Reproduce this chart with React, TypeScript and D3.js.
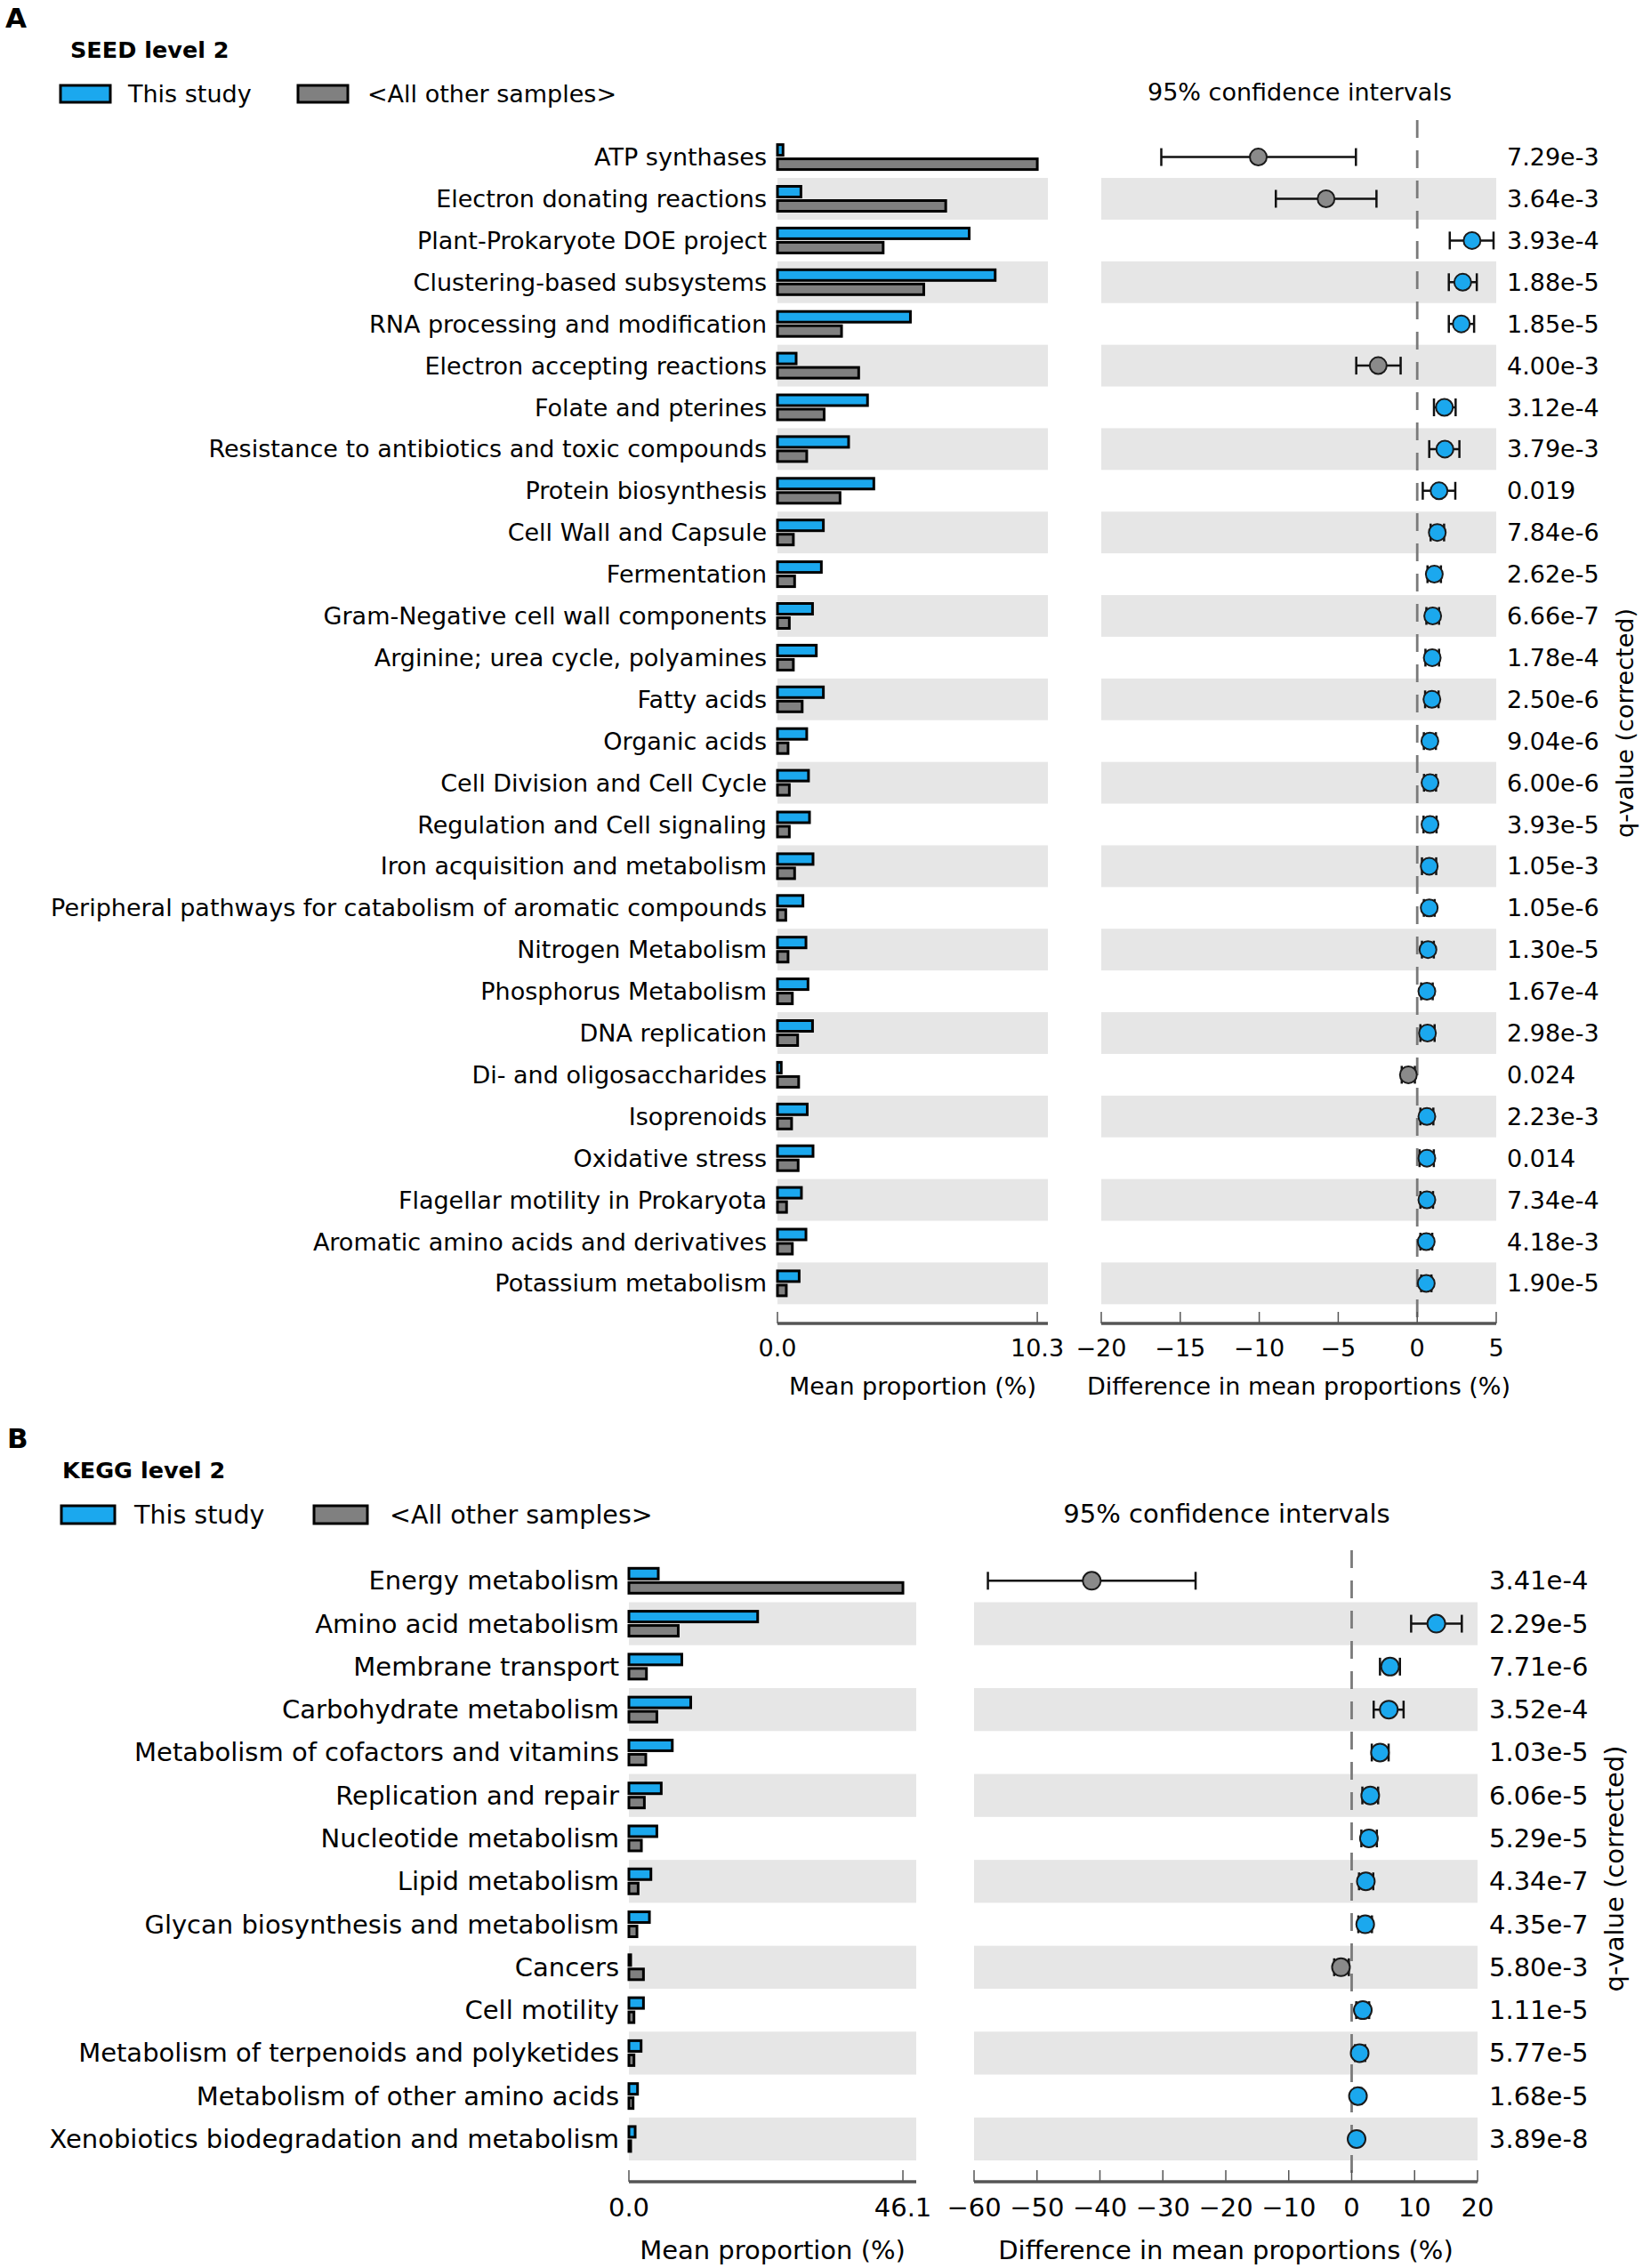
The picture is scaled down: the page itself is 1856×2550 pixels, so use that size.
import { FC } from 'react';
import * as d3 from 'd3';

// ---- SEED level 2 (panel A) ----
const seedCategories = [
  'ATP synthases',
  'Electron donating reactions',
  'Plant-Prokaryote DOE project',
  'Clustering-based subsystems',
  'RNA processing and modification',
  'Electron accepting reactions',
  'Folate and pterines',
  'Resistance to antibiotics and toxic compounds',
  'Protein biosynthesis',
  'Cell Wall and Capsule',
  'Fermentation',
  'Gram-Negative cell wall components',
  'Arginine; urea cycle, polyamines',
  'Fatty acids',
  'Organic acids',
  'Cell Division and Cell Cycle',
  'Regulation and Cell signaling',
  'Iron acquisition and metabolism',
  'Peripheral pathways for catabolism of aromatic compounds',
  'Nitrogen Metabolism',
  'Phosphorus Metabolism',
  'DNA replication',
  'Di- and oligosaccharides',
  'Isoprenoids',
  'Oxidative stress',
  'Flagellar motility in Prokaryota',
  'Aromatic amino acids and derivatives',
  'Potassium metabolism',
];
const seedThisStudy = [0.22, 0.93, 7.6, 8.63, 5.27, 0.74, 3.57, 2.82, 3.82, 1.82, 1.74, 1.39, 1.54, 1.82, 1.16, 1.23, 1.27, 1.41, 1.01, 1.13, 1.21, 1.39, 0.15, 1.18, 1.41, 0.95, 1.13, 0.86];
const seedOthers = [10.3, 6.67, 4.19, 5.8, 2.54, 3.22, 1.85, 1.16, 2.48, 0.63, 0.68, 0.47, 0.63, 0.98, 0.42, 0.47, 0.47, 0.68, 0.33, 0.42, 0.59, 0.8, 0.84, 0.56, 0.82, 0.36, 0.59, 0.35];
const seedDiff = [-10.06, -5.77, 3.47, 2.88, 2.79, -2.47, 1.72, 1.75, 1.38, 1.27, 1.08, 0.98, 0.95, 0.93, 0.8, 0.81, 0.81, 0.76, 0.76, 0.68, 0.61, 0.65, -0.56, 0.61, 0.61, 0.61, 0.57, 0.57];
const seedCiLow = [-16.2, -8.95, 2.06, 2.0, 2.0, -3.86, 1.06, 0.76, 0.35, 0.85, 0.65, 0.58, 0.52, 0.5, 0.42, 0.43, 0.4, 0.3, 0.42, 0.3, 0.25, 0.2, -0.98, 0.2, 0.15, 0.2, 0.2, 0.25];
const seedCiHigh = [-3.88, -2.58, 4.83, 3.77, 3.6, -1.05, 2.43, 2.67, 2.41, 1.7, 1.5, 1.38, 1.38, 1.35, 1.18, 1.19, 1.22, 1.2, 1.1, 1.05, 0.98, 1.1, -0.15, 1.02, 1.05, 1.0, 0.95, 0.9];
const seedQValues = ['7.29e-3', '3.64e-3', '3.93e-4', '1.88e-5', '1.85e-5', '4.00e-3', '3.12e-4', '3.79e-3', '0.019', '7.84e-6', '2.62e-5', '6.66e-7', '1.78e-4', '2.50e-6', '9.04e-6', '6.00e-6', '3.93e-5', '1.05e-3', '1.05e-6', '1.30e-5', '1.67e-4', '2.98e-3', '0.024', '2.23e-3', '0.014', '7.34e-4', '4.18e-3', '1.90e-5'];
const seedBarTicks = [0, 10.3];
const seedDiffTicks = [-20, -15, -10, -5, 0, 5];

// ---- KEGG level 2 (panel B) ----
const keggCategories = [
  'Energy metabolism',
  'Amino acid metabolism',
  'Membrane transport',
  'Carbohydrate metabolism',
  'Metabolism of cofactors and vitamins',
  'Replication and repair',
  'Nucleotide metabolism',
  'Lipid metabolism',
  'Glycan biosynthesis and metabolism',
  'Cancers',
  'Cell motility',
  'Metabolism of terpenoids and polyketides',
  'Metabolism of other amino acids',
  'Xenobiotics biodegradation and metabolism',
];
const keggThisStudy = [4.94, 21.66, 8.9, 10.4, 7.3, 5.44, 4.7, 3.7, 3.45, 0.3, 2.45, 2.05, 1.45, 1.05];
const keggOthers = [46.1, 8.3, 2.95, 4.7, 2.84, 2.6, 2.1, 1.55, 1.35, 2.45, 0.85, 0.85, 0.7, 0.3];
const keggDiff = [-41.3, 13.45, 6.1, 5.9, 4.5, 2.95, 2.74, 2.25, 2.15, -1.7, 1.77, 1.27, 1.0, 0.78];
const keggCiLow = [-57.8, 9.45, 4.5, 3.5, 3.2, 1.7, 1.54, 1.17, 1.06, -2.78, 0.73, 0.52, 0.45, 0.3];
const keggCiHigh = [-24.8, 17.5, 7.67, 8.25, 5.87, 4.2, 4.0, 3.43, 3.22, -0.45, 2.78, 2.15, 1.55, 1.25];
const keggQValues = ['3.41e-4', '2.29e-5', '7.71e-6', '3.52e-4', '1.03e-5', '6.06e-5', '5.29e-5', '4.34e-7', '4.35e-7', '5.80e-3', '1.11e-5', '5.77e-5', '1.68e-5', '3.89e-8'];
const keggBarTicks = [0, 46.1];
const keggDiffTicks = [-60, -50, -40, -30, -20, -10, 0, 10, 20];

const BLUE = '#1ba8ee';
const GRAY = '#808080';
const DOT_GRAY = '#8a8a8a';
const BAND = '#e6e6e6';
const FONT = '"DejaVu Sans", Verdana, sans-serif';

interface Layout {
  letter: string;
  letterPos: [number, number];
  title: string;
  titlePos: [number, number];
  titleSize: number;
  fontSize: number;
  legendSize: number;
  legendY: [number, number];
  legendBoxX: [number, number];
  legendBoxW: number;
  legendTextX: [number, number];
  legendBaseline: number;
  ciTitlePos: [number, number];
  firstRow: number;
  rowStep: number;
  barRange: [number, number];
  barDomainMax: number;
  diffRange: [number, number];
  diffDomain: [number, number];
  labelX: number;
  pX: number;
  axisY: number;
  dashTop: number;
  qPos: [number, number];
  tickLabelY: number;
  axisTitleY: number;
  dotR: number;
}

interface PanelProps {
  layout: Layout;
  categories: string[];
  thisStudy: number[];
  others: number[];
  diff: number[];
  ciLow: number[];
  ciHigh: number[];
  qValues: string[];
  barTicks: number[];
  diffTicks: number[];
}

const fmtTick = (v: number) => (v < 0 ? '\u2212' + Math.abs(v) : String(v));

const Panel: FC<PanelProps> = ({ layout: L, categories, thisStudy, others, diff, ciLow, ciHigh, qValues, barTicks, diffTicks }) => {
  const n = categories.length;
  const y = d3.scaleLinear().domain([0, n - 1]).range([L.firstRow, L.firstRow + (n - 1) * L.rowStep]);
  const xBar = d3.scaleLinear().domain([0, L.barDomainMax]).range(L.barRange);
  const xDiff = d3.scaleLinear().domain(L.diffDomain).range(L.diffRange);
  const half = L.rowStep / 2;
  const barH = 12;
  const cap = 10;
  const fs = L.fontSize;

  return (
    <g fontFamily={FONT}>
      <text x={L.letterPos[0]} y={L.letterPos[1]} fontSize={31} fontWeight="bold">{L.letter}</text>
      <text x={L.titlePos[0]} y={L.titlePos[1]} fontSize={L.titleSize} fontWeight="bold">{L.title}</text>

      {/* legend */}
      <rect x={L.legendBoxX[0]} y={L.legendY[0]} width={L.legendBoxW} height={L.legendY[1] - L.legendY[0]} fill={BLUE} stroke="#000" strokeWidth={3} />
      <text x={L.legendTextX[0]} y={L.legendBaseline} fontSize={L.legendSize}>This study</text>
      <rect x={L.legendBoxX[1]} y={L.legendY[0]} width={L.legendBoxW} height={L.legendY[1] - L.legendY[0]} fill={GRAY} stroke="#000" strokeWidth={3} />
      <text x={L.legendTextX[1]} y={L.legendBaseline} fontSize={L.legendSize}>{'<All other samples>'}</text>

      <text x={L.ciTitlePos[0]} y={L.ciTitlePos[1]} fontSize={fs} textAnchor="middle">95% confidence intervals</text>

      {/* alternating bands */}
      {categories.map((c, i) =>
        i % 2 === 1 ? (
          <g key={'band' + c}>
            <rect x={L.barRange[0]} y={y(i) - half} width={L.barRange[1] - L.barRange[0]} height={L.rowStep} fill={BAND} />
            <rect x={L.diffRange[0]} y={y(i) - half} width={L.diffRange[1] - L.diffRange[0]} height={L.rowStep} fill={BAND} />
          </g>
        ) : null
      )}

      {/* category labels */}
      {categories.map((c, i) => (
        <text key={'lab' + c} x={L.labelX} y={y(i)} fontSize={fs} textAnchor="end" dominantBaseline="central">{c}</text>
      ))}

      {/* bars */}
      {categories.map((c, i) => (
        <g key={'bar' + c}>
          <rect x={xBar(0)} y={y(i) - barH - 2} width={Math.max(xBar(thisStudy[i]) - xBar(0), 0.5)} height={barH} fill={BLUE} stroke="#000" strokeWidth={3} />
          <rect x={xBar(0)} y={y(i) + 2} width={Math.max(xBar(others[i]) - xBar(0), 0.5)} height={barH} fill={GRAY} stroke="#000" strokeWidth={3} />
        </g>
      ))}

      {/* zero line */}
      <line x1={xDiff(0)} x2={xDiff(0)} y1={L.dashTop} y2={L.axisY} stroke="#7a7a7a" strokeWidth={2.8} strokeDasharray="20,14" />

      {/* confidence intervals */}
      {categories.map((c, i) => (
        <g key={'ci' + c}>
          <line x1={xDiff(ciLow[i])} x2={xDiff(ciHigh[i])} y1={y(i)} y2={y(i)} stroke="#111" strokeWidth={2.5} />
          <line x1={xDiff(ciLow[i])} x2={xDiff(ciLow[i])} y1={y(i) - cap} y2={y(i) + cap} stroke="#111" strokeWidth={2.5} />
          <line x1={xDiff(ciHigh[i])} x2={xDiff(ciHigh[i])} y1={y(i) - cap} y2={y(i) + cap} stroke="#111" strokeWidth={2.5} />
          <circle cx={xDiff(diff[i])} cy={y(i)} r={L.dotR} fill={diff[i] < 0 ? DOT_GRAY : BLUE} stroke="#1a1a1a" strokeWidth={2} />
        </g>
      ))}

      {/* q-values */}
      {categories.map((c, i) => (
        <text key={'q' + c} x={L.pX} y={y(i)} fontSize={fs} dominantBaseline="central">{qValues[i]}</text>
      ))}
      <text transform={`translate(${L.qPos[0]},${L.qPos[1]}) rotate(-90)`} fontSize={fs} textAnchor="middle" dominantBaseline="central">q-value (corrected)</text>

      {/* bar axis */}
      <line x1={L.barRange[0]} x2={L.barRange[1]} y1={L.axisY} y2={L.axisY} stroke="#555" strokeWidth={3.5} />
      {barTicks.map((t) => (
        <g key={'bt' + t}>
          <line x1={xBar(t)} x2={xBar(t)} y1={L.axisY} y2={L.axisY - 13} stroke="#555" strokeWidth={1.5} />
          <text x={xBar(t)} y={L.tickLabelY} fontSize={fs} textAnchor="middle" dominantBaseline="central">{t.toFixed(1)}</text>
        </g>
      ))}
      <text x={(L.barRange[0] + L.barRange[1]) / 2} y={L.axisTitleY} fontSize={fs} textAnchor="middle" dominantBaseline="central">Mean proportion (%)</text>

      {/* diff axis */}
      <line x1={L.diffRange[0]} x2={L.diffRange[1]} y1={L.axisY} y2={L.axisY} stroke="#555" strokeWidth={3.5} />
      {diffTicks.map((t) => (
        <g key={'dt' + t}>
          <line x1={xDiff(t)} x2={xDiff(t)} y1={L.axisY} y2={L.axisY - 13} stroke="#555" strokeWidth={1.5} />
          <text x={xDiff(t)} y={L.tickLabelY} fontSize={fs} textAnchor="middle" dominantBaseline="central">{fmtTick(t)}</text>
        </g>
      ))}
      <text x={(L.diffRange[0] + L.diffRange[1]) / 2} y={L.axisTitleY} fontSize={fs} textAnchor="middle" dominantBaseline="central">Difference in mean proportions (%)</text>
    </g>
  );
};

const layoutA: Layout = {
  letter: 'A',
  letterPos: [6, 31],
  title: 'SEED level 2',
  titlePos: [79, 65],
  titleSize: 25.5,
  fontSize: 27,
  legendSize: 27,
  legendY: [96, 115],
  legendBoxX: [68, 335],
  legendBoxW: 56,
  legendTextX: [144, 413],
  legendBaseline: 115,
  ciTitlePos: [1461, 113],
  firstRow: 176.6,
  rowStep: 46.9,
  barRange: [874, 1178],
  barDomainMax: 10.72,
  diffRange: [1238, 1682],
  diffDomain: [-20, 5],
  labelX: 862,
  pX: 1694,
  axisY: 1488,
  dashTop: 135,
  qPos: [1826, 813],
  tickLabelY: 1515,
  axisTitleY: 1558,
  dotR: 9.5,
};

const layoutB: Layout = {
  letter: 'B',
  letterPos: [8, 1628],
  title: 'KEGG level 2',
  titlePos: [70, 1662],
  titleSize: 25.5,
  fontSize: 29,
  legendSize: 28.5,
  legendY: [1693, 1713],
  legendBoxX: [69, 353],
  legendBoxW: 60,
  legendTextX: [151, 438],
  legendBaseline: 1713,
  ciTitlePos: [1379, 1712],
  firstRow: 1777.3,
  rowStep: 48.28,
  barRange: [707, 1030],
  barDomainMax: 48.34,
  diffRange: [1095, 1661],
  diffDomain: [-60, 20],
  labelX: 696,
  pX: 1674,
  axisY: 2453,
  dashTop: 1743,
  qPos: [1815, 2101],
  tickLabelY: 2482,
  axisTitleY: 2530,
  dotR: 10,
};

const App: FC = () => (
  <div>
    <style>{'body{margin:0;background:#fff}'}</style>
    <svg width={1856} height={2550} style={{ display: 'block' }}>
      <rect width={1856} height={2550} fill="#fff" />
      <Panel
        layout={layoutA}
        categories={seedCategories}
        thisStudy={seedThisStudy}
        others={seedOthers}
        diff={seedDiff}
        ciLow={seedCiLow}
        ciHigh={seedCiHigh}
        qValues={seedQValues}
        barTicks={seedBarTicks}
        diffTicks={seedDiffTicks}
      />
      <Panel
        layout={layoutB}
        categories={keggCategories}
        thisStudy={keggThisStudy}
        others={keggOthers}
        diff={keggDiff}
        ciLow={keggCiLow}
        ciHigh={keggCiHigh}
        qValues={keggQValues}
        barTicks={keggBarTicks}
        diffTicks={keggDiffTicks}
      />
    </svg>
  </div>
);

export default App;
